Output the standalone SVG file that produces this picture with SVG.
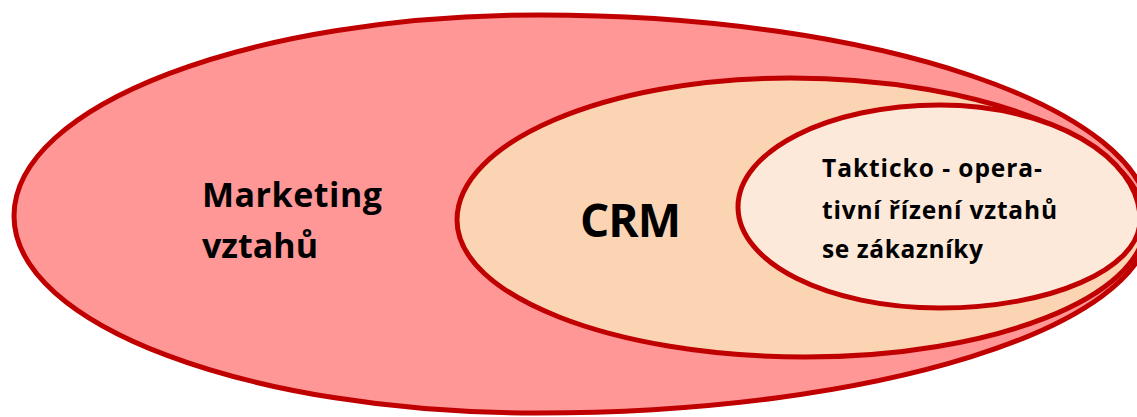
<svg xmlns="http://www.w3.org/2000/svg" width="1137" height="417" viewBox="0 0 1137 417">
<style>
.shape{stroke:#C00000;stroke-width:5;stroke-linejoin:round}
.lbl{font-family:"Open Sans",Lato,"Liberation Sans",sans-serif;font-weight:bold;fill:#000;font-variant-ligatures:none}
</style>
<rect width="1137" height="417" fill="#FFFFFF"/>
<g id="marketing-vztahu">
<path class="shape" fill="#FF9797" d="M14,216 C14,105 250,15 540,15 C877,15 1150,108 1150,222 C1150,327 876,413 537,413 C248,413 14,325 14,216 Z"/>
<text class="lbl" x="202" y="207" font-size="34" textLength="180" lengthAdjust="spacing">Marketing</text>
<text class="lbl" x="202" y="258" font-size="34" textLength="116" lengthAdjust="spacing">vztahů</text>
</g>
<g id="crm">
<path class="shape" fill="#FBD4B4" d="M457,220 C457,142 606,78 790,78 C986,78 1145,143 1145,224 C1145,297 993,357 805,357 C613,357 457,296 457,220 Z"/>
<text class="lbl" x="580" y="237" font-size="46" textLength="101" lengthAdjust="spacing">CRM</text>
</g>
<g id="takticko">
<path class="shape" fill="#FDE9D9" d="M738,207 C738,151 828,105 940,105 C1050,105 1140,156 1140,220 C1140,269 1050,308 940,308 C828,308 738,263 738,207 Z"/>
<text class="lbl" x="822" y="177" font-size="24.5" textLength="220" lengthAdjust="spacing">Takticko - opera-</text>
<text class="lbl" x="822" y="219" font-size="24.5" textLength="235" lengthAdjust="spacing">tivní řízení vztahů</text>
<text class="lbl" x="822" y="258" font-size="24.5" textLength="161" lengthAdjust="spacing">se zákazníky</text>
</g>
<g id="connectors"/>
</svg>
